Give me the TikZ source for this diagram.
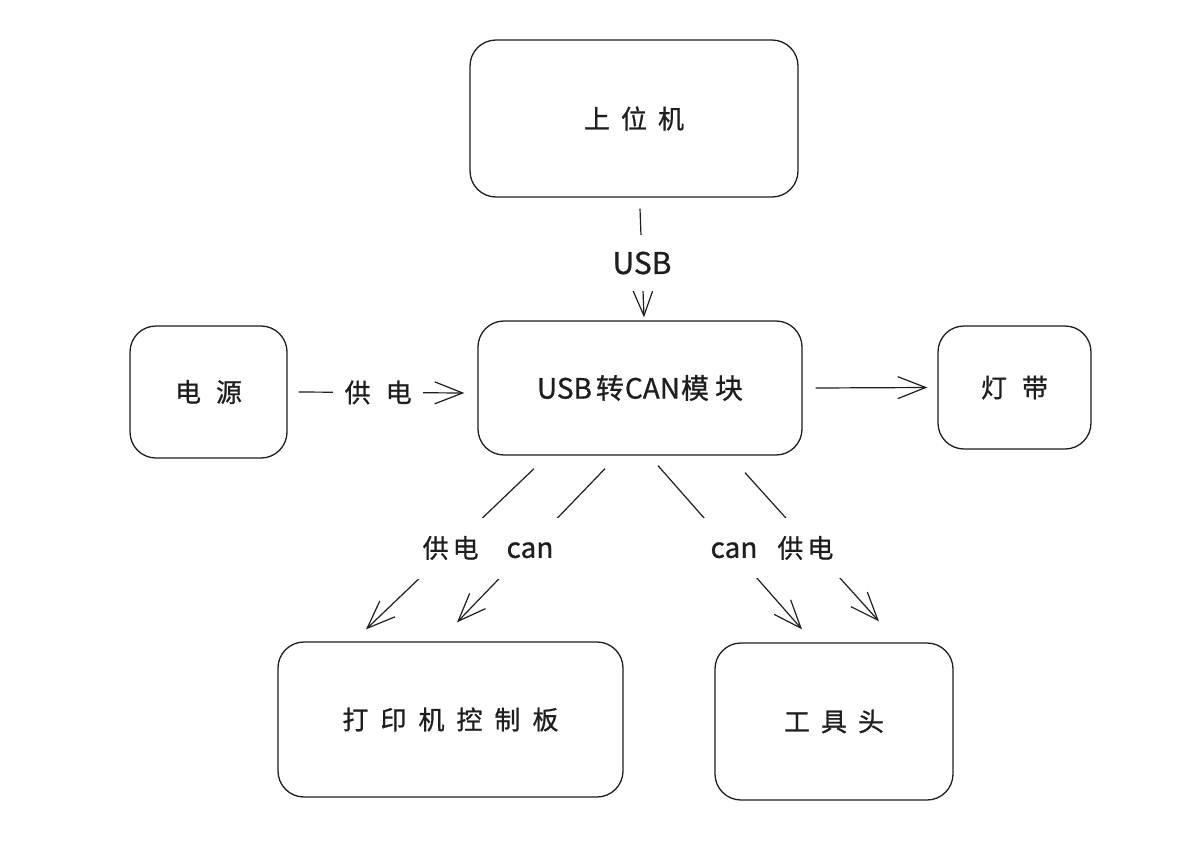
\documentclass[tikz,border=0pt]{standalone}
\usepackage{fontspec}
\setmainfont{Noto Sans CJK SC}[FakeBold=0.8]
\usetikzlibrary{arrows.meta,calc}
\definecolor{ink}{HTML}{1E1E1E}
\newcommand{\gp}[1]{\hspace{#1pt}}
\begin{document}
\begin{tikzpicture}[x=1pt,y=-1pt,
  box/.style={draw=ink,line width=1.3pt,rounded corners=26pt,inner sep=0pt,text=ink,font=\fontsize{26}{30}\selectfont},
  conn/.style={draw=ink,line width=1.2pt,-{Straight Barb[length=28pt,width=22pt,line width=1.2pt]}},
  gaplbl/.style={fill=white,text=ink,inner sep=0pt,font=\fontsize{26}{30}\selectfont}]
\useasboundingbox[fill=white] (0,0) rectangle (1203,865);

% boxes
\node[box,minimum width=328pt,minimum height=157pt] (pc) at (634,118.5) {上\gp{11}位\gp{11}机};
\node[box,minimum width=324pt,minimum height=134pt] (m) at (640,388) {{\fontsize{28}{32}\selectfont USB\gp{4}转\gp{1}CAN\gp{1}模\gp{6}块}};
\node[box,minimum width=157pt,minimum height=132pt] (pw) at (208.5,392) {电\gp{15}源};
\node[box,minimum width=153pt,minimum height=123pt] (led) at (1014.5,387.5) {灯\gp{15}带};
\node[box,minimum width=345pt,minimum height=155pt] (pb) at (450.5,719.5) {打\gp{12}印\gp{12}机\gp{12}控\gp{12}制\gp{12}板};
\node[box,minimum width=238pt,minimum height=157pt] (th) at (834,721.5) {工\gp{11}具\gp{11}头};

% connectors
\draw[conn] ($(pc.south)+(6,11)$) -- node[gaplbl,minimum height=56pt,font=\fontsize{30}{34}\selectfont] (usb) {USB} ($(m.north)+(4,-3)$);
\draw[conn] ($(pw.east)+(11,0)$) -- node[gaplbl,pos=0.48,minimum width=90pt] (gd) {供\gp{15}电} ($(m.west)+(-13,5)$);
\draw[conn] ($(m.east)+(13,0)$) -- ($(led.west)+(-10,0)$);
\draw[conn] ($(m.south)+(-106,13)$) -- ($(pb.north)+(-84.5,-12)$);
\draw[conn] ($(m.south)+(-35,13)$) -- ($(pb.north)+(6.5,-19)$);
\draw[conn] ($(m.south)+(18,10)$) -- ($(th.north)+(-32,-13)$);
\draw[conn] ($(m.south)+(105,17)$) -- ($(th.north)+(45,-21)$);

% labels cutting the diagonal connectors
\node[gaplbl,minimum width=146pt,minimum height=61pt] (l1) at (488,548) {供\gp{4}电\gp{28}{\fontsize{28}{32}\selectfont can}};
\node[gaplbl,minimum width=140pt,minimum height=60pt] (l2) at (772,548) {{\fontsize{28}{32}\selectfont can}\gp{20}供\gp{4}电};
\end{tikzpicture}
\end{document}
